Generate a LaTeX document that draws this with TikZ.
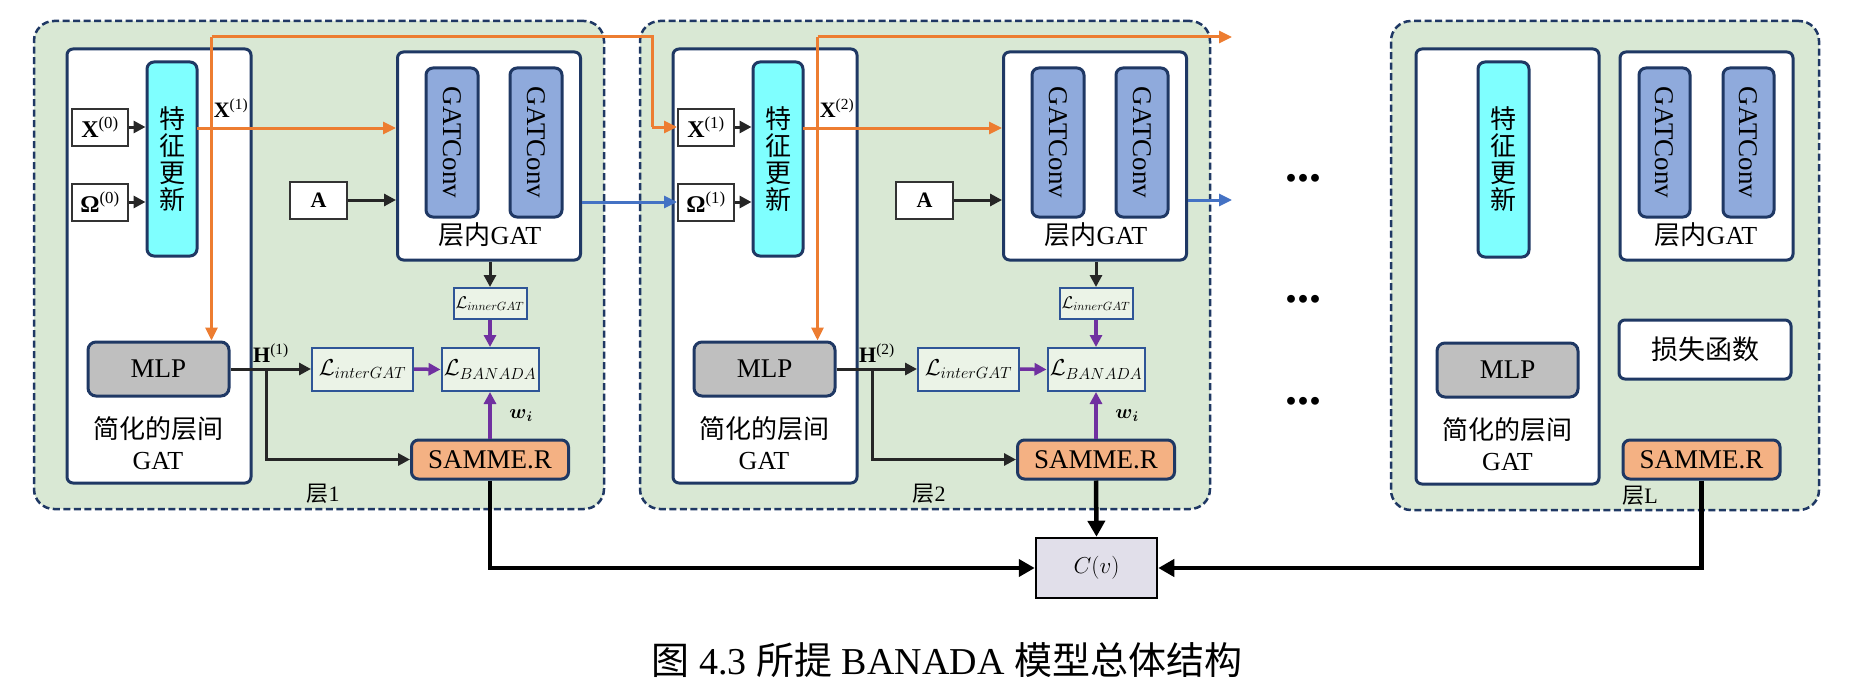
\RequirePackage{fix-cm}
\documentclass[tikz,border=0pt]{standalone}
\usepackage{amsmath, amssymb}
\usepackage{fontspec}
\setmainfont{Liberation Serif}
\newfontfamily\cjk{Noto Sans CJK SC}
\usepackage{tikz}
\usetikzlibrary{arrows.meta}
\usetikzlibrary{calc}

\definecolor{navy}{HTML}{1F3864}
\definecolor{laygreen}{HTML}{D9E8D4}
\definecolor{updcyan}{HTML}{7FFFFF}
\definecolor{convblue}{HTML}{8FAADC}
\definecolor{mlpgray}{HTML}{BFBFBF}
\definecolor{sammeorange}{HTML}{F4B183}
\definecolor{lossfill}{HTML}{EBF3E7}
\definecolor{lossblue}{HTML}{2F5597}
\definecolor{cvfill}{HTML}{E1DFEA}
\definecolor{orangeline}{HTML}{ED7D31}
\definecolor{blueline}{HTML}{4472C4}
\definecolor{purpleline}{HTML}{7030A0}

\begin{document}
\begin{tikzpicture}[x=1pt,y=-1pt,
	layerbox/.style={draw=navy,line width=2.5pt,dash pattern=on 7pt off 3.5pt,fill=laygreen,rounded corners=20pt},
	modbox/.style={draw=navy,line width=3pt,fill=white,rounded corners=6pt},
	updbox/.style={draw=navy,line width=3pt,fill=updcyan,rounded corners=7pt,align=center,inner sep=0pt,font=\cjk\fontsize{26}{27}\selectfont},
	convbox/.style={draw=navy,line width=3pt,fill=convblue,rounded corners=7pt,rotate=-90,inner sep=0pt,font=\fontsize{27}{27}\selectfont},
	inbox/.style={draw=black!80,line width=2pt,fill=white,inner sep=0pt,font=\fontsize{24}{24}\selectfont},
	lossbox/.style={draw=lossblue,line width=2pt,fill=lossfill,inner sep=0pt,font=\fontsize{23}{23}\selectfont},
	mlpbox/.style={draw=navy,line width=3pt,fill=mlpgray,rounded corners=8pt,font=\fontsize{27}{27}\selectfont},
	sammebox/.style={draw=navy,line width=3pt,fill=sammeorange,rounded corners=7pt,inner sep=0pt,font=\fontsize{27}{27}\selectfont},
	lab/.style={inner sep=0pt,font=\fontsize{22}{22}\selectfont},
	blkarr/.style={draw=black!85,line width=3pt,-{Triangle[length=12pt,width=12pt]}},
	orgarr/.style={draw=orangeline,line width=3pt,-{Triangle[length=13pt,width=12pt]}},
	orgline/.style={draw=orangeline,line width=3pt},
	bluarr/.style={draw=blueline,line width=3pt,-{Triangle[length=13pt,width=12pt]}},
	purarr/.style={draw=purpleline,line width=3.5pt,-{Triangle[length=12pt,width=12pt]}},
	thkarr/.style={draw=black,line width=4.5pt,-{Triangle[length=16pt,width=17pt]}}]
	\useasboundingbox (0,0) rectangle (1858,693);

	% layer 1 and layer 2
	\foreach \i/\dx in {1/0,2/606}{
		\pgfmathtruncatemacro{\j}{\i-1}
		\begin{scope}[xshift=\dx pt]
			\node[layerbox,minimum width=570,minimum height=488] (lay\i) at (319,265) {};
			\node[modbox,minimum width=184,minimum height=434] (mod\i) at (159,266) {};
			\node[updbox,minimum width=50,minimum height=194] (upd\i) at (172,159) {特\\征\\更\\新};
			\node[inbox,minimum width=56,minimum height=37] (xin\i) at (100,127) {\textbf{X}\textsuperscript{(\j)}};
			\node[inbox,minimum width=56,minimum height=37] (omin\i) at (100,202) {\textbf{Ω}\textsuperscript{(\j)}};
			\node[modbox,minimum width=183,minimum height=208] (gat\i) at (489,156) {};
			\node[convbox,minimum width=149,minimum height=52] (cva\i) at (452,142.5) {GATConv};
			\node[convbox,minimum width=149,minimum height=52] (cvb\i) at (536,142.5) {GATConv};
			\node[lab,font=\fontsize{26}{26}\selectfont] (gattxt\i) at (490,235) {{\cjk 层内}GAT};
			\node[inbox,font=\bfseries\fontsize{22}{22}\selectfont,minimum width=57,minimum height=37] (adj\i) at (318.5,200) {A};
			\node[lossbox,font=\fontsize{17}{17}\selectfont,minimum width=73,minimum height=31] (linner\i) at (490,303.5) {$\mathcal{L}_{innerGAT}$};
			\node[lossbox,minimum width=97,minimum height=43] (lban\i) at (490,369.5) {$\mathcal{L}_{BANADA}$};
			\node[lossbox,minimum width=101,minimum height=43] (linter\i) at (362.5,369) {$\mathcal{L}_{interGAT}$};
			\node[mlpbox,minimum width=141,minimum height=54] (mlp\i) at (158.5,369) {MLP};
			\node[sammebox,minimum width=157,minimum height=39] (samme\i) at (490,459.5) {SAMME.R};
			\node[lab,align=center,font=\fontsize{26}{31}\selectfont] (simp\i) at (158,443) {{\cjk 简化的层间}\\GAT};
			\node[lab] (laytxt\i) at (323,494) {{\cjk 层}\i};
			\node[lab] (xlab\i) at (231,108) {\textbf{X}\textsuperscript{(\i)}};
			\node[lab] (hlab\i) at (271,353) {\textbf{H}\textsuperscript{(\i)}};
			\node[lab,font=\fontsize{20}{20}\selectfont] (wlab\i) at (521,416) {$\boldsymbol{w}_{\boldsymbol{i}}$};
			\coordinate (top\i) at (211.5,37);
			\coordinate (xo\i) at (197,128);
			\coordinate (br\i) at (266,369);

			\draw[blkarr] (xin\i.east) -- (xin\i.east -| upd\i.west);
			\draw[blkarr] (omin\i.east) -- (omin\i.east -| upd\i.west);
			\draw[blkarr] (adj\i.east) -- (adj\i.east -| gat\i.west);
			\draw[orgarr] (xo\i) -- (xo\i -| gat\i.west);
			\draw[orgarr] (top\i) -- (top\i |- mlp\i.north);
			\draw[blkarr] (linner\i.north |- gat\i.south) -- (linner\i.north);
			\draw[blkarr] (mlp\i.east) -- (linter\i.west);
			\draw[blkarr] (br\i) |- (samme\i.west);
			\draw[purarr] (linter\i.east) -- (lban\i.west);
			\draw[purarr] (linner\i.south) -- (lban\i.north);
			\draw[purarr] (samme\i.north) -- (lban\i.south);
		\end{scope}
	}

	% layer L
	\node[layerbox,minimum width=428,minimum height=489] (layL) at (1605,265.5) {};
	\node[modbox,minimum width=183,minimum height=435] (modL) at (1507.5,266.5) {};
	\node[updbox,minimum width=51,minimum height=195] (updL) at (1503.5,159.5) {特\\征\\更\\新};
	\node[modbox,minimum width=173,minimum height=208] (gatL) at (1706.5,156) {};
	\node[convbox,minimum width=149,minimum height=51] (cvaL) at (1664.5,142.5) {GATConv};
	\node[convbox,minimum width=149,minimum height=51] (cvbL) at (1748.5,142.5) {GATConv};
	\node[lab,font=\fontsize{26}{26}\selectfont] (gattxtL) at (1706,235) {{\cjk 层内}GAT};
	\node[modbox,font=\cjk\fontsize{27}{27}\selectfont,minimum width=172,minimum height=59] (lossL) at (1705,349.5) {损失函数};
	\node[mlpbox,minimum width=141,minimum height=54] (mlpL) at (1507.5,370) {MLP};
	\node[lab,align=center,font=\fontsize{26}{31}\selectfont] (simpL) at (1507.5,444) {{\cjk 简化的层间}\\GAT};
	\node[sammebox,minimum width=157,minimum height=39] (sammeL) at (1701.5,459.5) {SAMME.R};
	\node[lab] (laytxtL) at (1640,496) {{\cjk 层}L};

	\node[lab,anchor=base,font=\bfseries\fontsize{48}{48}\selectfont] (dotsa) at (1303,181) {...};
	\node[lab,anchor=base,font=\bfseries\fontsize{48}{48}\selectfont] (dotsb) at (1303,302) {...};
	\node[lab,anchor=base,font=\bfseries\fontsize{48}{48}\selectfont] (dotsc) at (1303,404) {...};

	% connections between layers
	\coordinate (bend) at (652,37);
	\coordinate (outx) at (1232,37);
	\coordinate (outom) at (1232,200);
	\draw[orgline] (top1) -- (bend) -- (bend |- xin2.west);
	\draw[orgarr] (bend |- xin2.west) -- (xin2.west);
	\draw[orgarr] (top2) -- (outx);
	\draw[bluarr] (gat1.east |- omin2) -- (omin2.west);
	\draw[bluarr] (gat2.east |- outom) -- (outom);

	% C(v)
	\node[draw=black,line width=2.5pt,fill=cvfill,minimum width=121,minimum height=60,font=\fontsize{23}{23}\selectfont] (cv) at (1096.5,568) {$C(v)$};
	\draw[thkarr] (samme1.south) |- (cv.west);
	\draw[thkarr] (samme2.south) -- (cv.north);
	\draw[thkarr] (sammeL.south) |- (cv.east);

	\node[lab,font=\fontsize{38}{38}\selectfont] (cap) at (947,660) {{\cjk 图} 4.3 {\cjk 所提} BANADA {\cjk 模型总体结构}};
\end{tikzpicture}
\end{document}
